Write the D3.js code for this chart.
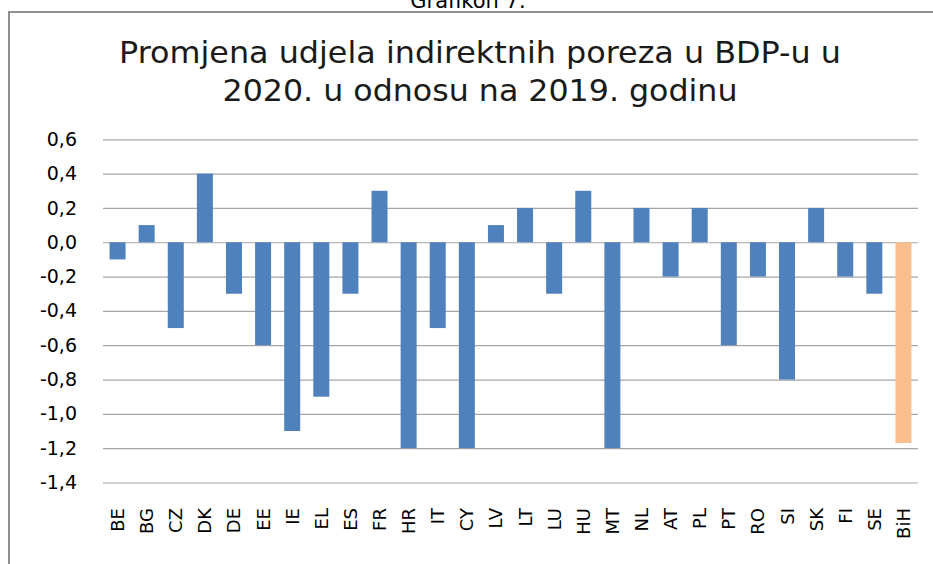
<!DOCTYPE html>
<meta charset="utf-8">
<head>
    <style>
        body { margin: 0; background: #fff; }
        text { font-family: "DejaVu Sans", Verdana, sans-serif; fill: #000; }
    </style>
    <script src="https://d3js.org/d3.v7.min.js"></script>
</head>
<body>
    <div id="my_dataviz"></div>
    <script>
        // data
        var countries = ["BE", "BG", "CZ", "DK", "DE", "EE", "IE", "EL", "ES", "FR", "HR", "IT", "CY", "LV",
            "LT", "LU", "HU", "MT", "NL", "AT", "PL", "PT", "RO", "SI", "SK", "FI", "SE", "BiH"];
        var changes = [-0.1, 0.1, -0.5, 0.4, -0.3, -0.6, -1.1, -0.9, -0.3, 0.3, -1.2, -0.5, -1.2, 0.1,
            0.2, -0.3, 0.3, -1.2, 0.2, -0.2, 0.2, -0.6, -0.2, -0.8, 0.2, -0.2, -0.3, -1.17];
        var yTicks = [0.6, 0.4, 0.2, 0.0, -0.2, -0.4, -0.6, -0.8, -1.0, -1.2, -1.4];
        var titleLines = ["Promjena udjela indirektnih poreza u BDP-u u", "2020. u odnosu na 2019. godinu"];
        var caption = "Grafikon 7.";

        var width = 933, height = 564;
        var plot = { left: 103, right: 918, top: 139.3, bottom: 482.5 };

        var svg = d3.select("#my_dataviz")
            .append("svg")
            .attr("width", width)
            .attr("height", height);

        // caption, cut at the top edge like in the scan
        svg.append("text")
            .attr("x", 468)
            .attr("y", 8)
            .attr("text-anchor", "middle")
            .style("font-size", "21px")
            .text(caption);

        // chart frame
        svg.append("rect")
            .attr("x", 9)
            .attr("y", 12)
            .attr("width", 940)
            .attr("height", 570)
            .attr("fill", "none")
            .attr("stroke", "#8f8f8f")
            .attr("stroke-width", 2);

        // title
        var titleW = [722, 515];
        titleLines.forEach(function (t, i) {
            svg.append("text")
                .attr("x", 480)
                .attr("y", 63 + i * 38)
                .attr("text-anchor", "middle")
                .attr("textLength", titleW[i])
                .attr("lengthAdjust", "spacingAndGlyphs")
                .style("font-size", "31px")
                .style("fill", "#1a1a1a")
                .text(t);
        });

        var x = d3.scaleBand()
            .domain(countries)
            .range([plot.left, plot.right])
            .paddingInner(0.45)
            .paddingOuter(0.225);

        var y = d3.scaleLinear()
            .domain([-1.4, 0.6])
            .range([plot.bottom, plot.top]);

        function fmt(v) {
            var s = (Math.round(v * 10) / 10).toFixed(1).replace(".", ",");
            return s === "-0,0" ? "0,0" : s;
        }

        // gridlines and y labels
        var yAxis = d3.axisLeft(y)
            .tickValues(yTicks)
            .tickSize(-(plot.right - plot.left))
            .tickPadding(26)
            .tickFormat(fmt);

        var gy = svg.append("g")
            .attr("transform", "translate(" + plot.left + ",0)")
            .call(yAxis);
        gy.select(".domain").remove();
        gy.selectAll(".tick line").attr("stroke", "#a6a6a6").attr("stroke-width", 1.2);
        gy.selectAll(".tick text")
            .style("font-size", "19px")
            .style("font-family", "'DejaVu Sans', Verdana, sans-serif")
            .attr("fill", "#1a1a1a");

        // bars
        svg.selectAll(".bar")
            .data(countries)
            .enter()
            .append("rect")
            .attr("class", "bar")
            .attr("x", function (d) { return x(d); })
            .attr("width", x.bandwidth())
            .attr("y", function (d, i) { return y(Math.max(0, changes[i])); })
            .attr("height", function (d, i) { return Math.abs(y(changes[i]) - y(0)); })
            .attr("fill", function (d) { return d === "BiH" ? "#f9bf8f" : "#4f81bd"; });

        // x labels rotated
        var xAxis = d3.axisBottom(x).tickSize(0).tickPadding(0);
        var gx = svg.append("g")
            .attr("transform", "translate(0,508)")
            .call(xAxis);
        gx.select(".domain").remove();
        gx.selectAll(".tick text")
            .attr("transform", "rotate(-90)")
            .attr("x", 0)
            .attr("y", 0)
            .attr("dy", "0.36em")
            .attr("text-anchor", "end")
            .style("font-size", "18px")
            .style("font-family", "'DejaVu Sans', Verdana, sans-serif")
            .attr("fill", "#1a1a1a");
    </script>
</body>
